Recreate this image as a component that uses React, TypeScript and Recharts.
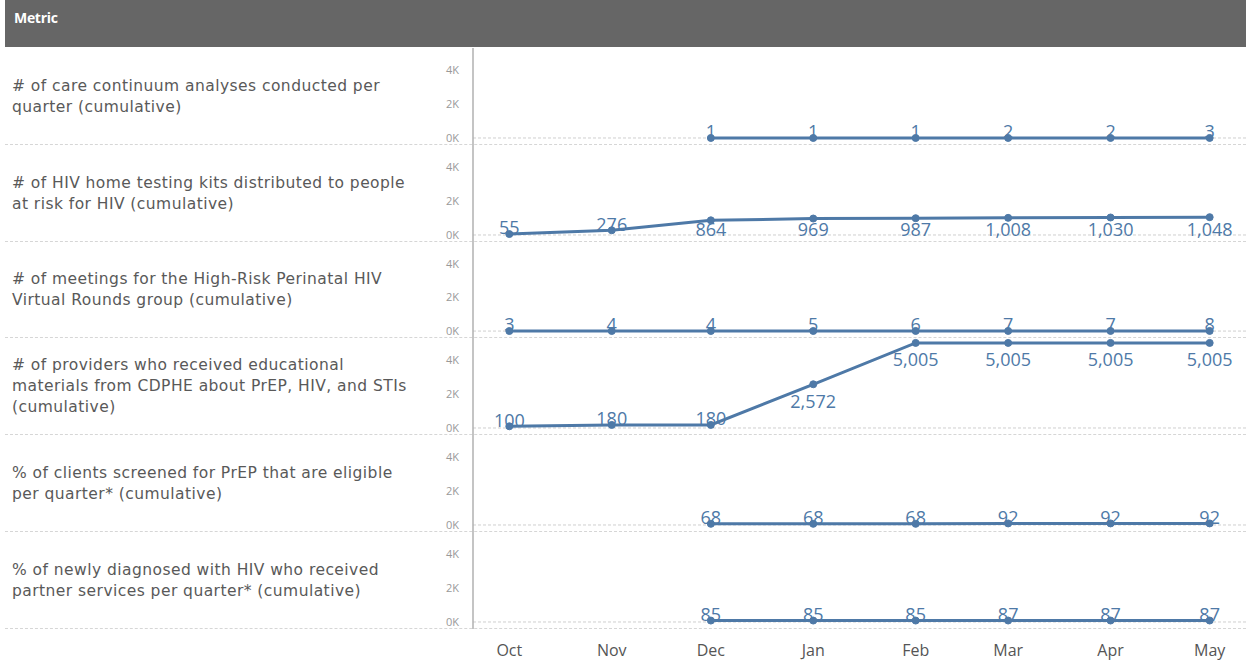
import React from 'react';
import { LineChart, Line, XAxis, YAxis, ReferenceLine } from 'recharts';

const months = ['Oct', 'Nov', 'Dec', 'Jan', 'Feb', 'Mar', 'Apr', 'May'];
// days since Oct 1 for each month start
const monthDays = [0, 31, 61, 92, 123, 151, 182, 212];

const careAnalyses = [null, null, 1, 1, 1, 2, 2, 3];
const homeTestKits = [55, 276, 864, 969, 987, 1008, 1030, 1048];
const perinatalMeetings = [3, 4, 4, 5, 6, 7, 7, 8];
const providersReached = [100, 180, 180, 2572, 5005, 5005, 5005, 5005];
const prepEligiblePct = [null, null, 68, 68, 68, 92, 92, 92];
const partnerServicesPct = [null, null, 85, 85, 85, 87, 87, 87];

const metricLines = [
  ['# of care continuum analyses conducted per', 'quarter (cumulative)'],
  ['# of HIV home testing kits distributed to people', 'at risk for HIV (cumulative)'],
  ['# of meetings for the High-Risk Perinatal HIV', 'Virtual Rounds group (cumulative)'],
  ['# of providers who received educational', 'materials from CDPHE about PrEP, HIV, and STIs', '(cumulative)'],
  ['% of clients screened for PrEP that are eligible', 'per quarter* (cumulative)'],
  ['% of newly diagnosed with HIV who received', 'partner services per quarter* (cumulative)'],
];
const seriesList = [careAnalyses, homeTestKits, perinatalMeetings, providersReached, prepEligiblePct, partnerServicesPct];
const yTicks = [0, 2000, 4000];

const BLUE = '#4e79a7';
const ROW_TOP = 48;
const ROW_H = 96.8;
const CHART_W = 816;
const AXIS_W = 43;
const FONT = '"Open Sans", sans-serif';
const LABEL_FONT = '"DejaVu Sans", sans-serif';

const fmt = (v: number) => v.toLocaleString('en-US');

const ValueLabel = (props: any) => {
  const { x, y, value } = props;
  if (value === null || value === undefined) return null;
  const below = value >= 500;
  const cy = below ? Math.min(y + 17, 85) : y - 6;
  return (
    <text x={x} y={cy} dy="0.35em" textAnchor="middle" fill={BLUE} fontSize={18} fontWeight={500} fontFamily={FONT}>
      {fmt(value)}
    </text>
  );
};

function MetricRow({ idx }: { idx: number }) {
  const last = idx === seriesList.length - 1;
  const top = Math.round(ROW_TOP + idx * ROW_H);
  const h = Math.round(ROW_TOP + (idx + 1) * ROW_H) - top;
  const data = months.map((m, i) => ({ month: m, day: monthDays[i], value: seriesList[idx][i] }));
  const xH = last ? 33 : 0;
  return (
    <>
      <div
        style={{
          position: 'absolute', left: 12, top, width: 415, height: h,
          display: 'flex', flexDirection: 'column', justifyContent: 'center',
          fontFamily: LABEL_FONT, fontSize: 15.5, letterSpacing: 0.45, lineHeight: '21px', color: '#595959',
        }}
      >
        {metricLines[idx].map((l) => <div key={l} style={{ whiteSpace: 'nowrap' }}>{l}</div>)}
      </div>
      <div style={{ position: 'absolute', left: 5, top: top + h - 1, width: 1241, borderTop: '1px dashed #d6d6d6' }} />
      <div style={{ position: 'absolute', left: 430, top }}>
        <LineChart width={CHART_W} height={h + xH} data={data} margin={{ top: 0, right: 0, bottom: 0, left: 0 }}>
          <XAxis
            dataKey="day"
            type="number"
            domain={[-11, 223]}
            ticks={monthDays}
            tickFormatter={(d: number) => months[monthDays.indexOf(d)]}
            hide={!last}
            height={xH}
            axisLine={false}
            tickLine={false}
            tickMargin={10}
            tick={{ fill: '#555', fontSize: 16, fontFamily: FONT }}
          />
          <YAxis
            domain={[-412, 5294]}
            ticks={yTicks}
            width={AXIS_W}
            allowDataOverflow
            tickFormatter={(v: number) => `${v / 1000}K`}
            tickLine={false}
            tickMargin={8}
            axisLine={{ stroke: '#b0b0b0', strokeWidth: 1.5 }}
            tick={{ fill: '#999', fontSize: 11, fontFamily: FONT }}
          />
          <ReferenceLine y={0} stroke="#cfcfcf" strokeDasharray="3 2" />
          <Line
            dataKey="value"
            stroke={BLUE}
            strokeWidth={3}
            dot={{ r: 3.5, fill: BLUE, stroke: BLUE, strokeWidth: 1 }}
            label={<ValueLabel />}
            isAnimationActive={false}
          />
        </LineChart>
      </div>
    </>
  );
}

export default function App() {
  return (
    <div style={{ position: 'absolute', left: 0, top: 0, width: 1246, height: 662, background: '#fff', overflow: 'hidden' }}>
      <div
        style={{
          position: 'absolute', left: 5, top: 0, width: 1241, height: 47, background: '#666',
          color: '#fff', fontFamily: FONT, fontWeight: 700, fontSize: 14, paddingLeft: 9, paddingTop: 8,
          boxSizing: 'border-box', letterSpacing: -0.3,
        }}
      >
        Metric
      </div>
      {seriesList.map((_, i) => <MetricRow key={i} idx={i} />)}
    </div>
  );
}
